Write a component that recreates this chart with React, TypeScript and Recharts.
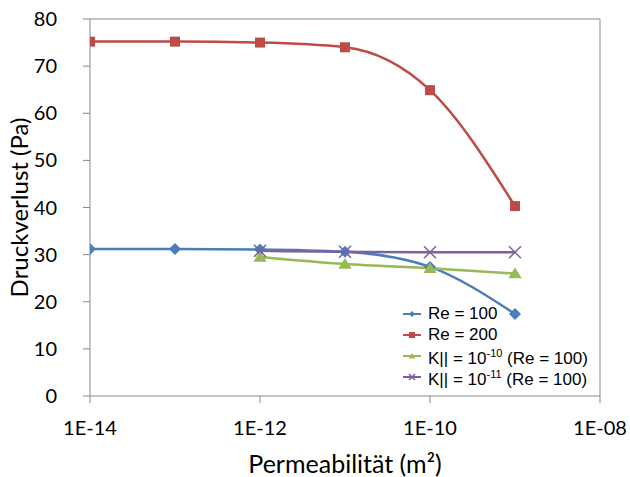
import React from "react";
import { LineChart, Line, XAxis, YAxis, ReferenceLine, Label } from "recharts";

const permeability = [1e-14, 1e-13, 1e-12, 1e-11, 1e-10, 1e-9];
const re100 = [31.2, 31.2, 31.1, 30.6, 27.4, 17.4];
const re200 = [75.2, 75.2, 75.0, 74.0, 64.9, 40.3];
const k10 = [null, null, 29.5, 28.0, 27.1, 26.0];
const k11 = [null, null, 30.8, 30.6, 30.5, 30.5];
const xTicks = [1e-14, 1e-12, 1e-10, 1e-8];
const yTicks = [0, 10, 20, 30, 40, 50, 60, 70, 80];

const data = permeability.map((x, i) => ({
  x,
  re100: re100[i],
  re200: re200[i],
  k10: k10[i],
  k11: k11[i],
}));

const BLUE = "#4A7EBB";
const RED = "#BE4B48";
const GREEN = "#98B954";
const PURPLE = "#7D60A0";
const AXIS = "#898989";
const FONT = "Lato, 'Open Sans', sans-serif";

type MarkerKind = "diamond" | "square" | "triangle" | "cross";

const Marker = ({ kind, cx, cy, color, s }: { kind: MarkerKind; cx: number; cy: number; color: string; s: number }) => {
  if (kind === "diamond")
    return <polygon points={`${cx},${cy - s} ${cx + s},${cy} ${cx},${cy + s} ${cx - s},${cy}`} fill={color} />;
  if (kind === "square") return <rect x={cx - s} y={cy - s} width={2 * s} height={2 * s} fill={color} />;
  if (kind === "triangle")
    return <polygon points={`${cx},${cy - s} ${cx + s * 1.1},${cy + s * 0.8} ${cx - s * 1.1},${cy + s * 0.8}`} fill={color} />;
  return (
    <g stroke={color} strokeWidth={1.5}>
      <line x1={cx - s} y1={cy - s} x2={cx + s} y2={cy + s} />
      <line x1={cx - s} y1={cy + s} x2={cx + s} y2={cy - s} />
    </g>
  );
};

const makeDot = (kind: MarkerKind, color: string, s: number) => (props: any) => {
  const { cx, cy, value, index } = props;
  if (cx == null || cy == null || value == null) return <g key={`e-${kind}-${index}`} />;
  return (
    <g key={`d-${kind}-${index}`}>
      <Marker kind={kind} cx={cx} cy={cy} color={color} s={s} />
    </g>
  );
};

const legendItems = [
  { kind: "diamond" as MarkerKind, color: BLUE, label: <>Re = 100</> },
  { kind: "square" as MarkerKind, color: RED, label: <>Re = 200</> },
  { kind: "triangle" as MarkerKind, color: GREEN, label: <>K|| = 10<sup style={{ fontSize: 11 }}>-10</sup> (Re = 100)</> },
  { kind: "cross" as MarkerKind, color: PURPLE, label: <>K|| = 10<sup style={{ fontSize: 11 }}>-11</sup> (Re = 100)</> },
];

const ChartLegend = () => (
  <div
    style={{
      position: "absolute",
      left: 403,
      top: 303,
      fontFamily: "'Liberation Sans', Arial, sans-serif",
      fontSize: 17,
      color: "#000",
      lineHeight: "21px",
    }}
  >
    {legendItems.map((it, i) => (
      <div key={i} style={{ display: "flex", alignItems: "center", height: 21 }}>
        <svg width={18} height={10} style={{ marginRight: 7 }}>
          <line x1={0} y1={5} x2={18} y2={5} stroke={it.color} strokeWidth={2} />
          <Marker kind={it.kind} cx={9} cy={5} color={it.color} s={3} />
        </svg>
        <span>{it.label}</span>
      </div>
    ))}
  </div>
);

const fmt = (v: number) => {
  const e = Math.round(-Math.log10(v));
  return `1E-${String(e).padStart(2, "0")}`;
};

export default function App() {
  return (
    <div style={{ position: "absolute", left: 0, top: 0, width: 630, height: 477, background: "#fff" }}>
      <LineChart width={630} height={477} data={data} margin={{ top: 19, right: 30, left: 0, bottom: 0 }}>
        <XAxis
          dataKey="x"
          type="number"
          scale="log"
          domain={[1e-14, 1e-8]}
          ticks={xTicks}
          allowDataOverflow
          tickFormatter={fmt}
          stroke={AXIS}
          tickSize={7}
          tickMargin={18}
          height={81}
          tick={{ fill: "#000", fontSize: 20, fontFamily: FONT }}
        >
          <Label
            value="Permeabilität (m²)"
            position="insideBottom"
            offset={4}
            style={{ fill: "#000", fontSize: 25, fontFamily: FONT }}
          />
        </XAxis>
        <YAxis
          type="number"
          domain={[0, 80]}
          ticks={yTicks}
          stroke={AXIS}
          tickSize={7}
          tickMargin={26}
          width={90}
          tick={{ fill: "#000", fontSize: 20, fontFamily: FONT }}
        >
          <Label
            value="Druckverlust (Pa)"
            angle={-90}
            position="insideLeft"
            offset={19}
            style={{ textAnchor: "middle", fill: "#000", fontSize: 24, fontFamily: FONT }}
          />
        </YAxis>
        <ReferenceLine y={80} stroke={AXIS} />
        <ReferenceLine x={1e-8} stroke={AXIS} />
        <Line
          dataKey="re100"
          type="monotone"
          stroke={BLUE}
          strokeWidth={2.5}
          dot={makeDot("diamond", BLUE, 6)}
          isAnimationActive={false}
        />
        <Line
          dataKey="re200"
          type="monotone"
          stroke={RED}
          strokeWidth={2.5}
          dot={makeDot("square", RED, 5)}
          isAnimationActive={false}
        />
        <Line
          dataKey="k10"
          type="monotone"
          stroke={GREEN}
          strokeWidth={2.5}
          dot={makeDot("triangle", GREEN, 6)}
          isAnimationActive={false}
        />
        <Line
          dataKey="k11"
          type="monotone"
          stroke={PURPLE}
          strokeWidth={2.5}
          dot={makeDot("cross", PURPLE, 6)}
          isAnimationActive={false}
        />
      </LineChart>
      <ChartLegend />
    </div>
  );
}
